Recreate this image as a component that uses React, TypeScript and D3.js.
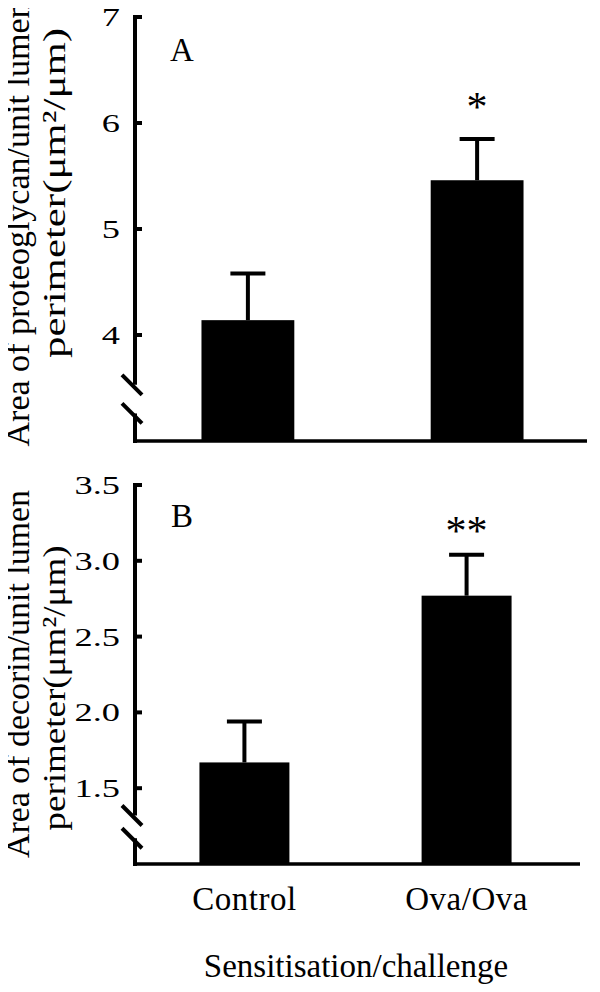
import React from "react";
import * as d3 from "d3";

const categories = ["Control", "Ova/Ova"];

// panel A: proteoglycan
const proteoglycanMean = [4.14, 5.46];
const proteoglycanSem = [0.44, 0.39];
const proteoglycanStars = ["", "*"];
const proteoglycanTicks = [4, 5, 6, 7];

// panel B: decorin
const decorinMean = [1.67, 2.77];
const decorinSem = [0.27, 0.27];
const decorinStars = ["", "**"];
const decorinTicks = [1.5, 2.0, 2.5, 3.0, 3.5];

const FONT = "Liberation Serif";

interface PanelProps {
  letter: string;
  means: number[];
  sems: number[];
  stars: string[];
  ticks: number[];
  tickFormat: (v: number) => string;
  domain: [number, number];
  yRange: [number, number];
  xRange: [number, number];
  axisEnd: number;
  breakAt: [number, number];
  label1: string;
  label1Len: number;
  label1Mid: number;
  label2: string;
  label2Len: number;
  label2Mid: number;
  letterY: number;
  starGap: number;
}

function Panel(p: PanelProps) {
  const y = d3.scaleLinear().domain(p.domain).range(p.yRange);
  const x = d3
    .scaleBand<string>()
    .domain(categories)
    .range(p.xRange)
    .paddingInner(0.595)
    .paddingOuter(0.29);

  const axisX = 135;
  const base = y(p.domain[0]);
  const top = y(p.domain[1]);
  const b1 = y(p.breakAt[0]);
  const b2 = y(p.breakAt[1]);

  return (
    <g>
      {categories.map((c, i) => (
        <rect
          key={c}
          x={x(c)}
          y={y(p.means[i])}
          width={x.bandwidth()}
          height={base - y(p.means[i])}
          fill="#000"
        />
      ))}

      {/* error bars, upper half only */}
      {categories.map((c, i) => {
        const cx = (x(c) as number) + x.bandwidth() / 2;
        const yTop = y(p.means[i] + p.sems[i]);
        return (
          <g key={c}>
            <g stroke="#000" strokeWidth={4}>
              <line x1={cx} x2={cx} y1={y(p.means[i])} y2={yTop} />
              <line x1={cx - 17.5} x2={cx + 17.5} y1={yTop} y2={yTop} />
            </g>
            {p.stars[i] && (
              <text
                x={cx}
                y={yTop - p.starGap}
                textAnchor="middle"
                fontSize={42}
                fontFamily={FONT}
              >
                {p.stars[i]}
              </text>
            )}
          </g>
        );
      })}

      {/* y axis with break */}
      <g stroke="#000" strokeWidth={4} fill="none">
        <line x1={axisX} x2={axisX} y1={top - 2} y2={b1} />
        <line x1={axisX} x2={axisX} y1={b2} y2={base + 2} />
        <line x1={axisX - 13} x2={axisX + 7} y1={b1 - 10} y2={b1 + 10} />
        <line x1={axisX - 13} x2={axisX + 7} y1={b2 - 10} y2={b2 + 10} />
        <line x1={axisX - 2} x2={p.axisEnd} y1={base} y2={base} strokeWidth={3.5} />
        {p.ticks.map((t) => (
          <line key={t} x1={axisX} x2={axisX + 7} y1={y(t)} y2={y(t)} />
        ))}
      </g>
      {p.ticks.map((t) => (
        <text
          key={t}
          transform={`translate(120,${y(t) + 9}) scale(1.4,1)`}
          textAnchor="end"
          fontSize={26}
          fontFamily={FONT}
        >
          {p.tickFormat(t)}
        </text>
      ))}

      <text x={182} y={p.letterY} textAnchor="middle" fontSize={33} fontFamily={FONT}>
        {p.letter}
      </text>

      {/* y axis title, two lines */}
      <text
        transform={`translate(29,${p.label1Mid}) rotate(-90)`}
        textAnchor="middle"
        fontSize={33}
        fontFamily={FONT}
        textLength={p.label1Len}
        lengthAdjust="spacingAndGlyphs"
      >
        {p.label1}
      </text>
      <text
        transform={`translate(65,${p.label2Mid}) rotate(-90)`}
        textAnchor="middle"
        fontSize={32}
        fontFamily={FONT}
        textLength={p.label2Len}
        lengthAdjust="spacingAndGlyphs"
      >
        {p.label2}
      </text>
    </g>
  );
}

export default function App() {
  const xLabels = d3
    .scaleBand<string>()
    .domain(categories)
    .range([135, 576])
    .paddingInner(0.595)
    .paddingOuter(0.29);

  return (
    <div style={{ margin: -8 }}>
      <svg width={600} height={992} style={{ display: "block", fontFamily: "Liberation Serif, serif" }}>
        <Panel
          letter="A"
          means={proteoglycanMean}
          sems={proteoglycanSem}
          stars={proteoglycanStars}
          ticks={proteoglycanTicks}
          tickFormat={d3.format("d")}
          domain={[3, 7]}
          yRange={[441, 17]}
          xRange={[135, 590]}
          axisEnd={587}
          breakAt={[3.53, 3.26]}
          label1="Area of proteoglycan/unit lumen"
          label1Len={445}
          label1Mid={224}
          label2="perimeter(μm²/μm)"
          label2Len={330}
          label2Mid={193}
          letterY={61}
          starGap={18}
        />
        <Panel
          letter="B"
          means={decorinMean}
          sems={decorinSem}
          stars={decorinStars}
          ticks={decorinTicks}
          tickFormat={d3.format(".1f")}
          domain={[1, 3.5]}
          yRange={[864, 485]}
          xRange={[135, 576]}
          axisEnd={580}
          breakAt={[1.32, 1.17]}
          label1="Area of decorin/unit lumen"
          label1Len={368}
          label1Mid={674}
          label2="perimeter(μm²/μm)"
          label2Len={285}
          label2Mid={688}
          letterY={527}
          starGap={10}
        />

        {categories.map((c) => (
          <text
            key={c}
            x={(xLabels(c) as number) + xLabels.bandwidth() / 2}
            y={910}
            textAnchor="middle"
            fontSize={33}
            fontFamily={FONT}
            letterSpacing={0.5}
          >
            {c}
          </text>
        ))}
        <text x={356} y={977} textAnchor="middle" fontSize={33} fontFamily={FONT}>
          Sensitisation/challenge
        </text>
      </svg>
    </div>
  );
}
